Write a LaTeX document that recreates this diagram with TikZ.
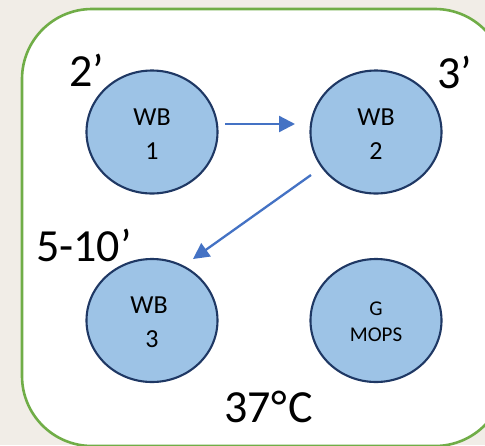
\documentclass[tikz,border=0pt]{standalone}
\usepackage{fontspec}
\setmainfont{Carlito}
\usetikzlibrary{shapes.geometric,arrows.meta}
\definecolor{pagebg}{HTML}{F1EDE7}
\definecolor{framegreen}{HTML}{70AD47}
\definecolor{wellfill}{HTML}{9DC3E6}
\definecolor{welldraw}{HTML}{1F3864}
\definecolor{flowblue}{HTML}{4472C4}
\tikzset{
  well/.style={ellipse,draw=welldraw,fill=wellfill,line width=2.1pt,minimum width=131pt,minimum height=123pt,inner sep=0pt,outer sep=0pt},
  welltext/.style={anchor=base,inner sep=0pt,font=\fontsize{26}{26}\selectfont,text=black},
  smalltext/.style={anchor=base,inner sep=0pt,font=\fontsize{21}{21}\selectfont,text=black},
  bigtext/.style={anchor=base west,inner sep=0pt,font=\fontsize{46}{46}\selectfont,text=black},
  flow/.style={draw=flowblue,line width=2.3pt,-{Triangle[length=16pt,width=16pt]}},
}
\begin{document}
\begin{tikzpicture}[x=1pt,y=-1pt]
\useasboundingbox (0,0) rectangle (485,445);
\clip (0,0) rectangle (485,445);
\fill[pagebg] (0,0) rectangle (485,445);
\draw[framegreen,fill=white,line width=2.6pt,rounded corners=70pt] (22,9) rectangle (505,446);

\node[well] (w1) at (152,132) {};
\node[well] (w2) at (376,132) {};
\node[well] (w3) at (152,320.5) {};
\node[well] (w4) at (376,320.5) {};

\node[welltext] (w1a) at (152,125) {WB};
\node[welltext] (w1b) at (152,159) {1};
\node[welltext] (w2a) at (376,125) {WB};
\node[welltext] (w2b) at (376,159) {2};
\node[welltext] (w3a) at (149,313) {WB};
\node[welltext] (w3b) at (152,347) {3};
\node[smalltext] (w4a) at (376,315) {G};
\node[smalltext] (w4b) at (376,341) {MOPS};

\node[bigtext] (t1) at (69,86) {2’};
\node[bigtext] (t2) at (437,88) {3’};
\node[bigtext] (t3) at (36,261) {5-10’};
\node[bigtext] (t4) at (224,422) {37\kern1pt°\kern1.5ptC};

\coordinate (f1s) at ([shift={(73,-8)}]w1.center);
\coordinate (f1e) at ([shift={(-81,-8)}]w2.center);
\coordinate (f2s) at ([shift={(-65,43)}]w2.center);
\coordinate (f2e) at ([shift={(41,-61.5)}]w3.center);
\draw[flow] (f1s) -- (f1e);
\draw[flow] (f2s) -- (f2e);
\end{tikzpicture}
\end{document}
